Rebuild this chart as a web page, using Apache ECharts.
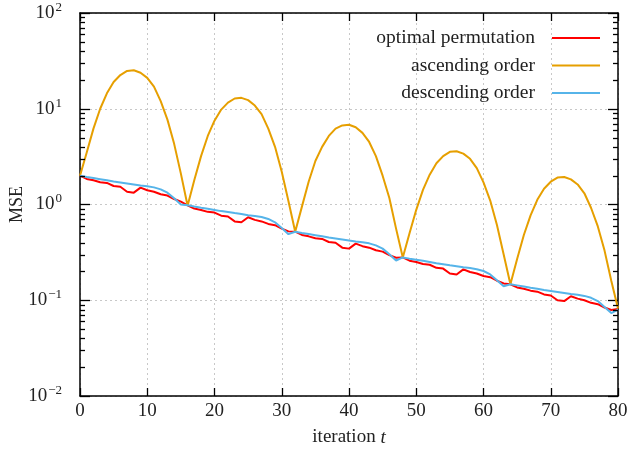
<!DOCTYPE html>
<html>
<head>
<meta charset="utf-8">
<script src="https://cdn.jsdelivr.net/npm/echarts@6/dist/echarts.min.js"></script>
<style>
html,body{margin:0;padding:0;background:#fff;}
#chart{width:628px;height:449px;}
</style>
</head>
<body>
<div id="chart"></div>
<script>
// ---- data ----
const seriesNames = ['optimal permutation', 'ascending order', 'descending order'];
const yTickExponents = ['-2', '-1', '0', '1', '2'];
const xTickLabels = ['0', '10', '20', '30', '40', '50', '60', '70', '80'];

const optimal = [
  2.0,1.85,1.79,1.71,1.68,1.56,1.53,1.36,1.33,1.50,1.41,1.36,1.28,1.24,1.14,1.07,
  0.98,0.907,0.877,0.838,0.823,0.764,0.750,0.666,0.652,0.735,0.691,0.666,0.627,0.608,0.559,0.524,
  0.52,0.481,0.465,0.445,0.437,0.406,0.398,0.354,0.346,0.39,0.367,0.354,0.333,0.322,0.296,0.278,
  0.28,0.259,0.251,0.239,0.235,0.218,0.214,0.190,0.186,0.21,0.197,0.190,0.179,0.174,0.160,0.150,
  0.147,0.136,0.132,0.126,0.123,0.115,0.112,0.100,0.098,0.110,0.104,0.100,0.094,0.091,0.084,0.079,
  0.081
];
const ascending = [
  2.0,3.5,6.2,10,14.5,19,22.5,24.8,25.2,23.8,21,17,12,7.7,4.3,2.1,0.97,
  1.8,3.2,5.2,7.5,9.8,11.6,12.8,13.0,12.3,10.8,8.8,6.2,4.0,2.2,1.08,0.52,
  0.95,1.73,2.85,4.0,5.2,6.2,6.7,6.8,6.4,5.6,4.5,3.2,2.0,1.17,0.56,0.28,
  0.5,0.88,1.42,2.05,2.7,3.2,3.55,3.6,3.4,3.0,2.4,1.7,1.1,0.61,0.3,0.147,
  0.27,0.48,0.77,1.12,1.46,1.73,1.91,1.94,1.83,1.62,1.31,0.92,0.59,0.33,0.16,0.082
];
const descending = [
  2.0,1.94,1.89,1.84,1.79,1.74,1.70,1.66,1.62,1.58,1.55,1.51,1.44,1.33,1.16,1.0,
  0.98,0.951,0.926,0.902,0.877,0.853,0.833,0.813,0.794,0.774,0.760,0.740,0.706,0.652,0.568,0.49,
  0.52,0.504,0.491,0.478,0.465,0.452,0.442,0.432,0.421,0.411,0.403,0.393,0.374,0.346,0.302,0.26,
  0.28,0.272,0.265,0.258,0.251,0.244,0.238,0.232,0.227,0.221,0.217,0.211,0.202,0.186,0.162,0.14,
  0.147,0.143,0.139,0.135,0.132,0.128,0.125,0.122,0.119,0.116,0.114,0.111,0.106,0.098,0.085,0.0735,
  0.08
];

// ---- styling ----
const FONT = '"Liberation Serif", "DejaVu Serif", serif';
const TXT = '#222';
const colors = ['#ff0000', '#e69f00', '#56b4e9'];
const pairs = arr => arr.map((v, i) => [i, v]);

const chart = echarts.init(document.getElementById('chart'), null, {renderer: 'canvas'});

const gridLine = {show: true, lineStyle: {color: '#c8c8c8', type: [2, 3], width: 1}};
const axisLine = {show: true, onZero: false, lineStyle: {color: '#000', width: 1.5}};

function legendFor(i, top) {
  return {
    show: true, right: 28, top: top, padding: 0, orient: 'horizontal', align: 'right',
    icon: 'rect', itemWidth: 48, itemHeight: 2,
    data: [seriesNames[i]],
    textStyle: {fontFamily: FONT, fontSize: 19.5, color: TXT, padding: [0, 12, 0, 0]},
    selectedMode: false
  };
}

const option = {
  backgroundColor: '#fff',
  animation: false,
  color: colors,
  grid: {left: 80, right: 10, top: 13, bottom: 53, containLabel: false, outerBoundsMode: 'none'},
  legend: [legendFor(0, 28), legendFor(1, 55.5), legendFor(2, 83)],
  xAxis: [{
    type: 'value', min: 0, max: 80, interval: 10, position: 'bottom',
    name: 'iteration {it|t}', nameLocation: 'middle', nameGap: 32, nameMoveOverlap: false,
    nameTextStyle: {fontFamily: FONT, fontSize: 19, color: TXT,
      rich: {it: {fontFamily: FONT, fontSize: 19, fontStyle: 'italic', color: TXT}}},
    axisLine: axisLine,
    axisTick: {show: true, inside: true, length: 8, lineStyle: {color: '#000', width: 1.3}},
    axisLabel: {show: true, margin: 6, fontFamily: FONT, fontSize: 19, color: TXT,
      formatter: v => xTickLabels[Math.round(v / 10)]},
    splitLine: gridLine
  }, {
    type: 'value', min: 0, max: 80, interval: 10, position: 'top',
    axisLine: axisLine,
    axisTick: {show: true, inside: true, length: 8, lineStyle: {color: '#000', width: 1.3}},
    axisLabel: {show: false}, splitLine: {show: false}
  }],
  yAxis: [{
    type: 'log', logBase: 10, min: 0.01, max: 100, position: 'left',
    name: 'MSE', nameLocation: 'middle', nameGap: 54, nameRotate: 90, nameMoveOverlap: false,
    nameTextStyle: {fontFamily: FONT, fontSize: 18, color: TXT},
    axisLine: axisLine,
    axisTick: {show: true, inside: true, length: 10, lineStyle: {color: '#000', width: 1.3}},
    axisLabel: {show: true, margin: 18, fontFamily: FONT, fontSize: 19, color: TXT,
      formatter: v => '10{sup|' + yTickExponents[Math.round(Math.log10(v)) + 2].replace('-', '\u2212') + '}',
      rich: {sup: {fontFamily: FONT, fontSize: 13, color: TXT, verticalAlign: 'top', padding: [0, 0, 11, 1]}}},
    splitLine: gridLine
  }, {
    type: 'log', logBase: 10, min: 0.01, max: 100, position: 'right',
    axisLine: axisLine,
    axisTick: {show: true, inside: true, length: 10, lineStyle: {color: '#000', width: 1.3}},
    axisLabel: {show: false}, splitLine: {show: false}
  }],
  series: [
    {name: seriesNames[0], type: 'line', data: pairs(optimal), symbol: 'none',
      lineStyle: {color: colors[0], width: 2}, z: 3},
    {name: seriesNames[1], type: 'line', data: pairs(ascending), symbol: 'none',
      lineStyle: {color: colors[1], width: 2}, z: 4},
    {name: seriesNames[2], type: 'line', data: pairs(descending), symbol: 'none',
      lineStyle: {color: colors[2], width: 2}, z: 5}
  ]
};
chart.setOption(option);

// minor log ticks on left and right axes, positioned through the axis scale
const minor = [];
const xl = chart.convertToPixel({xAxisIndex: 0}, 0);
const xr = chart.convertToPixel({xAxisIndex: 0}, 80);
for (let d = -2; d < 2; d++) {
  for (let m = 2; m <= 9; m++) {
    const y = Math.round(chart.convertToPixel({yAxisIndex: 0}, m * Math.pow(10, d))) + 0.5;
    minor.push({type: 'line', shape: {x1: xl, y1: y, x2: xl + 5, y2: y}, style: {stroke: '#000', lineWidth: 1.3}, z: 10});
    minor.push({type: 'line', shape: {x1: xr, y1: y, x2: xr - 5, y2: y}, style: {stroke: '#000', lineWidth: 1.3}, z: 10});
  }
}
chart.setOption({graphic: minor});
</script>
</body>
</html>
